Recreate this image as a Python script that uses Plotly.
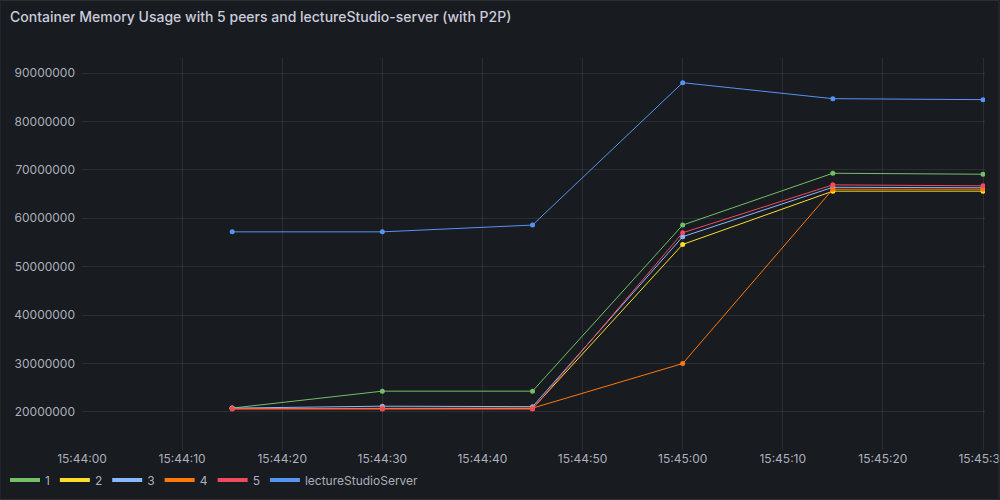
import plotly.graph_objects as go

times = ["2023-06-01 15:44:15", "2023-06-01 15:44:30", "2023-06-01 15:44:45",
         "2023-06-01 15:45:00", "2023-06-01 15:45:15", "2023-06-01 15:45:30"]

s1 = [20.8e6, 24.3e6, 24.3e6, 58.6e6, 69.3e6, 69.1e6]
s2 = [20.7e6, 20.7e6, 20.7e6, 54.6e6, 65.6e6, 65.6e6]
s3 = [20.8e6, 21.2e6, 21.1e6, 56.2e6, 66.4e6, 66.3e6]
s4 = [20.7e6, 20.8e6, 20.8e6, 30.0e6, 66.0e6, 66.0e6]
s5 = [20.6e6, 20.6e6, 20.6e6, 57.0e6, 66.9e6, 66.7e6]
server = [57.2e6, 57.2e6, 58.6e6, 88.0e6, 84.7e6, 84.5e6]

series = [("1", s1, "#73BF69"), ("2", s2, "#FADE2A"), ("3", s3, "#8AB8FF"),
          ("4", s4, "#FF780A"), ("5", s5, "#F2495C"),
          ("lectureStudioServer", server, "#5794F2")]

fig = go.Figure()
for name, vals, col in series:
    fig.add_trace(go.Scatter(x=times, y=vals, name=name, mode="lines+markers",
                             legendgroup=name, showlegend=False,
                             line=dict(color=col, width=1),
                             marker=dict(color=col, size=5)))
for name, vals, col in series:
    fig.add_trace(go.Scatter(x=[None], y=[None], name=name, mode="lines",
                             legendgroup=name, showlegend=True,
                             line=dict(color=col, width=4)))

txt = "rgba(204,204,220,0.85)"
grid = "rgba(204,204,220,0.10)"
fig.update_layout(
    width=1000, height=500,
    margin=dict(l=82, r=15, t=58, b=50, autoexpand=False),
    paper_bgcolor="#181b1f", plot_bgcolor="#181b1f",
    font=dict(family="Inter", size=12, color=txt),
    title=dict(text="Container Memory Usage with 5 peers and lectureStudio-server (with P2P)",
               x=0.01, xanchor="left", y=0.966, yanchor="middle",
               font=dict(size=14, color="#ccccdc", weight=500)),
    showlegend=True,
    legend=dict(orientation="h", x=0.005, xanchor="left", y=0.04, yanchor="middle",
                xref="container", yref="container",
                font=dict(size=12, color=txt), bgcolor="rgba(0,0,0,0)",
                itemwidth=30, tracegroupgap=0),
    xaxis=dict(type="date", range=["2023-06-01 15:44:00", "2023-06-01 15:45:30.2"],
               dtick=10000, tickformat="%H:%M:%S", showgrid=True, gridcolor=grid,
               zeroline=False, showline=False, ticks="", ticklabeloverflow="allow",
               tickfont=dict(size=12, color=txt)),
    yaxis=dict(range=[12.15e6, 93.1e6], dtick=10e6, tickformat="d", showgrid=True,
               gridcolor=grid, zeroline=False, showline=False, ticks="",
               ticklabelstandoff=6, tickfont=dict(size=12, color=txt)),
    shapes=[dict(type="rect", xref="paper", yref="paper",
                 x0=-82/903, x1=1 + 14/903, y0=-49.5/392, y1=1 + 57.5/392,
                 line=dict(color="#2c2e33", width=1), fillcolor="rgba(0,0,0,0)")],
)

fig.write_html("out.html")
